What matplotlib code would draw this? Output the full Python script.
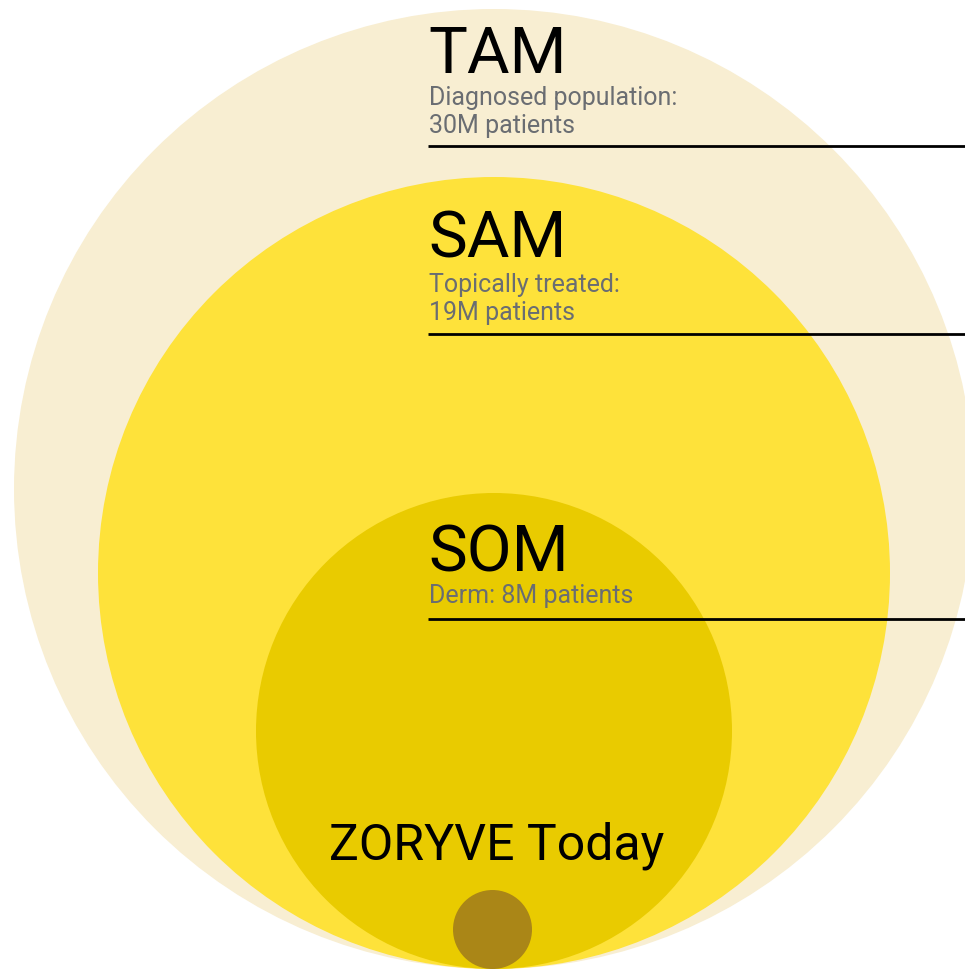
import matplotlib.pyplot as plt
from matplotlib.patches import Circle

plt.rcParams["font.family"] = ["Roboto", "DejaVu Sans"]

# market tiers (outer -> inner)
labels = ["TAM", "SAM", "SOM"]
subtitles = [["Diagnosed population:", "30M patients"],
             ["Topically treated:", "19M patients"],
             ["Derm: 8M patients"]]
patients_m = [30, 19, 8]
radius = [480, 396, 238]          # circle radius (px)
core_label = "ZORYVE Today"
core_radius = 39.5

colors = ["#F8EED2", "#FEE23A", "#E9CB00"]
core_color = "#AA8617"

W, H = 965, 970
bottom = 970   # all circles sit on the same baseline
cx = 494

fig = plt.figure(figsize=(W / 100, H / 100), dpi=100)
ax = fig.add_axes([0, 0, 1, 1])
ax.set_xlim(0, W)
ax.set_ylim(H, 0)
ax.axis("off")

for r, c in zip(radius, colors):
    ax.add_patch(Circle((cx, bottom - r), r, color=c, lw=0))
ax.add_patch(Circle((cx - 1.5, bottom - core_radius), core_radius, color=core_color, lw=0))

# title / subtitle / rule for each tier
title_base = [73, 258, 572]
sub_base = [105, 292, 603]
rule_y = [147, 335, 620]
for lab, sub, yt, ys, yr in zip(labels, subtitles, title_base, sub_base, rule_y):
    ax.text(428, yt, lab, fontsize=47, color="black", ha="left", va="baseline")
    for i, line in enumerate(sub):
        ax.text(429, ys + 28 * i, line, fontsize=18, color="#6A6D72",
                ha="left", va="baseline")
    ax.plot([428, W], [yr, yr], color="black", lw=2, solid_capstyle="butt")

ax.text(497, 860, core_label, fontsize=36, color="black", ha="center", va="baseline")

fig.savefig("out.png", dpi=100)
